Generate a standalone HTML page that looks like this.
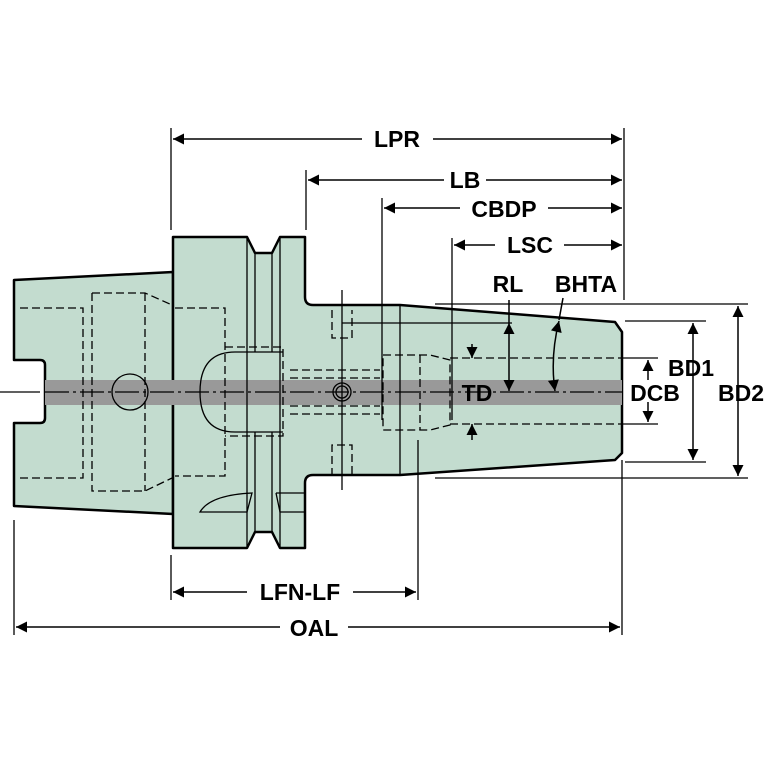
<!DOCTYPE html>
<html><head><style>
html,body{margin:0;padding:0;background:#fff;}
svg{display:block;}
text{font-family:"Liberation Sans",Arial,sans-serif;font-weight:bold;fill:#000;}
</style></head><body>
<svg width="767" height="767" viewBox="0 0 767 767" xmlns="http://www.w3.org/2000/svg">
<defs>
<marker id="a" viewBox="0 0 10 10" refX="10" refY="5" markerWidth="15" markerHeight="11" markerUnits="userSpaceOnUse" orient="auto-start-reverse"><path d="M0,0 L10,5 L0,10 z" fill="#000"/></marker>
</defs>
<g fill="#c3dccf" stroke="#000" stroke-width="2.5" stroke-linejoin="round">
<path d="M14,280 L173,272 L173,514 L14,506 L14,423 L40,423 Q45,423 45,418 L45,365 Q45,360 40,360 L14,360 Z"/>
<path d="M173,237 L247,237 L255,253 L272,253 L280,237 L305,237 L305,297 Q305,305 313,305 L400,305 L615,322 L622,332 L622,453 L615,460 L400,475 L313,475 Q305,475 305,483 L305,548 L280,548 L272,532 L255,532 L247,548 L173,548 Z"/>
</g>
<rect x="45" y="380" width="577" height="25" fill="#999"/>
<g fill="none" stroke="#000" stroke-width="1.3">
<line x1="0" y1="392" x2="40" y2="392"/>
<line x1="45" y1="392" x2="622" y2="392" stroke-dasharray="24,4,3,4"/>
<circle cx="130" cy="392" r="18"/>
<path d="M283,352 L235,352 Q200,352 200,392 Q200,432 235,432 L283,432"/>
<line x1="247" y1="237" x2="247" y2="548"/><line x1="255" y1="253" x2="255" y2="352"/><line x1="255" y1="432" x2="255" y2="532"/>
<line x1="272" y1="253" x2="272" y2="352"/><line x1="272" y1="432" x2="272" y2="532"/>
<line x1="280" y1="237" x2="280" y2="548"/>
<line x1="400" y1="305" x2="400" y2="475"/>
<path d="M200,512 Q210,495 252,493 L247,512 Z"/>
<path d="M276,493 L305,493 M276,493 L280,512 L305,512"/>
<circle cx="342" cy="392" r="9"/><circle cx="342" cy="392" r="6"/>
<line x1="342" y1="290" x2="342" y2="490"/>
<line x1="342" y1="323" x2="512" y2="323"/>
</g>
<g fill="none" stroke="#000" stroke-width="1.3" stroke-dasharray="8,4">
<path d="M20,308 L83,308 L83,478 L20,478"/>
<path d="M92,293 L145,293 L172,305 M92,293 L92,491 L145,491 L172,478 M145,293 L145,491"/>
<path d="M175,308 L225,308 L225,476 L175,476"/>
<path d="M225,347 L283,347 L283,436 L225,436"/>
<path d="M290,370 L380,370 M290,414 L380,414 M290,378 L380,378 M290,406 L380,406"/>
<path d="M383,355 L430,355 L450,360 L450,425 L430,430 L383,430 Z"/>
<line x1="420" y1="355" x2="420" y2="430"/>
<line x1="450" y1="358" x2="622" y2="358"/><line x1="450" y1="424" x2="622" y2="424"/>
<path d="M332,310 L332,338 L352,338 L352,310"/>
<path d="M332,476 L332,445 L352,445 L352,476"/>
</g>
<g fill="none" stroke="#000" stroke-width="1.3">
<line x1="171" y1="128" x2="171" y2="230"/><line x1="624" y1="128" x2="624" y2="300"/>
<line x1="306" y1="170" x2="306" y2="230"/>
<line x1="382" y1="198" x2="382" y2="420"/>
<line x1="452" y1="238" x2="452" y2="420"/>
<line x1="171" y1="555" x2="171" y2="600"/><line x1="418" y1="440" x2="418" y2="600"/>
<line x1="14" y1="520" x2="14" y2="635"/><line x1="622" y1="460" x2="622" y2="635"/>
<line x1="435" y1="304" x2="748" y2="304"/><line x1="435" y1="478" x2="748" y2="478"/>
<line x1="625" y1="321" x2="706" y2="321"/><line x1="625" y1="462" x2="706" y2="462"/>
<line x1="622" y1="358" x2="658" y2="358"/><line x1="622" y1="424" x2="658" y2="424"/>
</g>
<g stroke="#000" stroke-width="1.5" fill="none">
<line x1="173" y1="139" x2="362" y2="139" marker-start="url(#a)"/><line x1="433" y1="139" x2="622" y2="139" marker-end="url(#a)"/>
<line x1="308" y1="180" x2="444" y2="180" marker-start="url(#a)"/><line x1="486" y1="180" x2="622" y2="180" marker-end="url(#a)"/>
<line x1="384" y1="208" x2="460" y2="208" marker-start="url(#a)"/><line x1="548" y1="208" x2="622" y2="208" marker-end="url(#a)"/>
<line x1="454" y1="245" x2="495" y2="245" marker-start="url(#a)"/><line x1="564" y1="245" x2="622" y2="245" marker-end="url(#a)"/>
<line x1="173" y1="592" x2="247" y2="592" marker-start="url(#a)"/><line x1="353" y1="592" x2="416" y2="592" marker-end="url(#a)"/>
<line x1="16" y1="627" x2="280" y2="627" marker-start="url(#a)"/><line x1="348" y1="627" x2="620" y2="627" marker-end="url(#a)"/>
<line x1="509" y1="300" x2="509" y2="323"/>
<line x1="509" y1="323" x2="509" y2="391" marker-start="url(#a)" marker-end="url(#a)"/>
<line x1="563" y1="298" x2="559" y2="320"/>
<path d="M559,321 Q550,357 555,391" marker-start="url(#a)" marker-end="url(#a)"/>
<line x1="472" y1="344" x2="472" y2="358" marker-end="url(#a)"/>
<line x1="472" y1="440" x2="472" y2="424" marker-end="url(#a)"/>
<line x1="648" y1="360" x2="648" y2="380" marker-start="url(#a)"/><line x1="648" y1="402" x2="648" y2="422" marker-end="url(#a)"/>
<line x1="693" y1="323" x2="693" y2="460" marker-start="url(#a)" marker-end="url(#a)"/>
<line x1="738" y1="306" x2="738" y2="476" marker-start="url(#a)" marker-end="url(#a)"/>
</g>
<g font-size="23">
<text x="397" y="147" text-anchor="middle">LPR</text>
<text x="465" y="188" text-anchor="middle">LB</text>
<text x="504" y="217" text-anchor="middle">CBDP</text>
<text x="530" y="253" text-anchor="middle">LSC</text>
<text x="508" y="292" text-anchor="middle">RL</text>
<text x="586" y="292" text-anchor="middle">BHTA</text>
<text x="477" y="401" text-anchor="middle">TD</text>
<text x="655" y="401" text-anchor="middle">DCB</text>
<text x="691" y="376" text-anchor="middle">BD1</text>
<text x="741" y="401" text-anchor="middle">BD2</text>
<text x="300" y="600" text-anchor="middle">LFN-LF</text>
<text x="314" y="636" text-anchor="middle">OAL</text>
</g>
</svg>
</body></html>
